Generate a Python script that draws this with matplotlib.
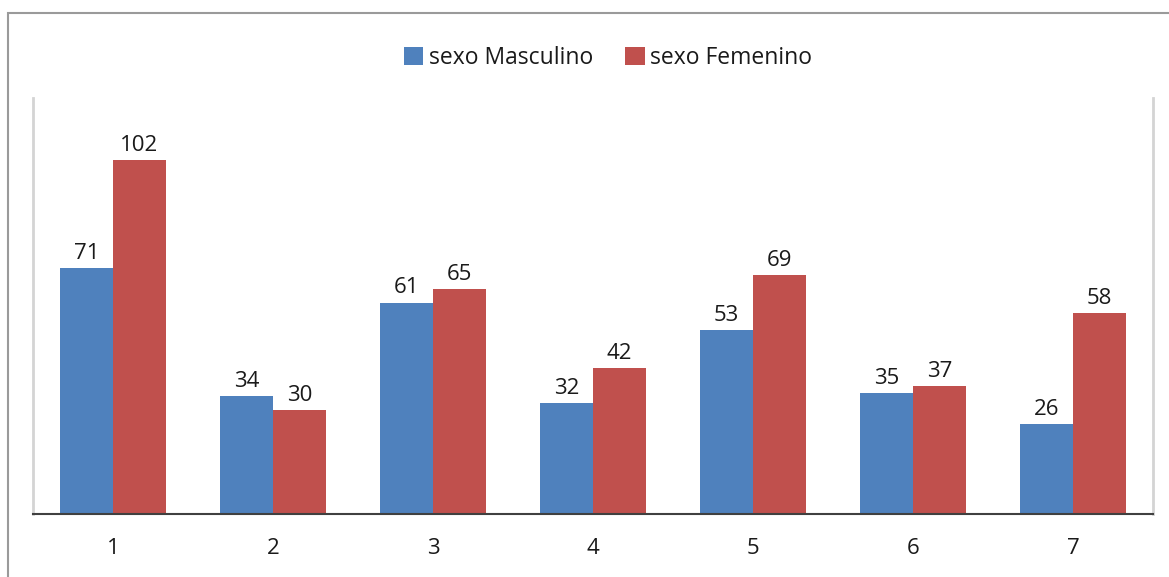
import matplotlib
matplotlib.use("Agg")
import matplotlib.pyplot as plt
from matplotlib.patches import Rectangle, Patch
import numpy as np

plt.rcParams['font.family'] = ['Open Sans', 'DejaVu Sans']

categories = ["1", "2", "3", "4", "5", "6", "7"]
masculino = [71, 34, 61, 32, 53, 35, 26]
femenino = [102, 30, 65, 42, 69, 37, 58]
series_names = ["sexo Masculino", "sexo Femenino"]

BLUE = "#4F81BD"
RED = "#C0504D"
TEXT = "#1a1a1a"

W, H = 1169, 577
fig = plt.figure(figsize=(W / 100, H / 100), dpi=100)

# outer chart frame
fig.patches.append(Rectangle((8 / W, -0.1), 1.2, 1 - 13 / H + 0.1,
                             transform=fig.transFigure, fill=False,
                             edgecolor="#9a9a9a", linewidth=1.5))

ax = fig.add_axes([33 / W, (H - 514) / H, (1153 - 33) / W, (514 - 98) / H])

x = np.arange(len(categories))
bw = 0.33
ax.bar(x - bw / 2, masculino, width=bw, color=BLUE, label=series_names[0])
ax.bar(x + bw / 2, femenino, width=bw, color=RED, label=series_names[1])

fs = 16
for xi, v in zip(x, masculino):
    ax.text(xi - bw / 2, v + 1.2, str(v), ha="center", va="bottom", fontsize=fs, color=TEXT)
for xi, v in zip(x, femenino):
    ax.text(xi + bw / 2, v + 1.2, str(v), ha="center", va="bottom", fontsize=fs, color=TEXT)

ax.set_xlim(-0.5, len(categories) - 0.5)
ax.set_ylim(0, 120)
ax.set_xticks(x)
ax.set_xticklabels(categories, fontsize=fs, color=TEXT)
ax.tick_params(axis="x", length=0, pad=17)
ax.set_yticks([])

ax.spines["top"].set_visible(False)
ax.spines["left"].set_color("#d4d4d4")
ax.spines["left"].set_linewidth(2)
ax.spines["right"].set_color("#d4d4d4")
ax.spines["right"].set_linewidth(2)
ax.spines["bottom"].set_color("#404040")
ax.spines["bottom"].set_linewidth(1.5)

handles = [Patch(facecolor=BLUE), Patch(facecolor=RED)]
fig.legend(handles, series_names, loc="center", bbox_to_anchor=(608 / W, 1 - 58 / H),
           ncol=2, frameon=False, fontsize=16.5, handlelength=0.85, handleheight=0.85,
           handletextpad=0.25, columnspacing=1.4, labelcolor=TEXT)

fig.savefig("out.png", dpi=100)
